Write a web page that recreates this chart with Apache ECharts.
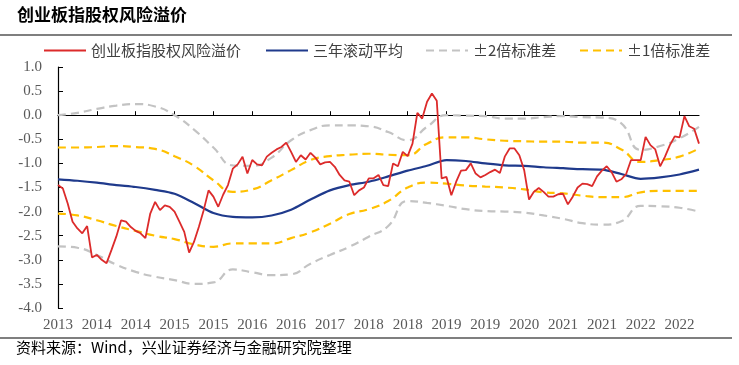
<!DOCTYPE html>
<html>
<head>
<meta charset="utf-8">
<script src="https://cdn.jsdelivr.net/npm/echarts@6/dist/echarts.min.js"></script>
<style>html,body{margin:0;padding:0;background:#fff;}#c{width:739px;height:365px;}</style>
</head>
<body>
<div id="c"></div>
<script>
// tick labels of the category axis (one per 8 points)
var xLabels = ['2013','2014','2014','2015','2015','2016','2016','2017','2018','2018','2019','2019','2020','2021','2021','2022','2022'];
var pointsPerLabel = 8;
var nPoints = 133;

// 创业板指股权风险溢价 (one value per category point)
var premium = [
 -1.45,-1.52,-1.83,-2.21,-2.35,-2.45,-2.3,-2.95,-2.9,-3.0,
 -3.07,-2.8,-2.52,-2.18,-2.21,-2.32,-2.4,-2.45,-2.55,-2.04,
 -1.8,-1.97,-1.87,-1.9,-2.0,-2.21,-2.42,-2.85,-2.63,-2.32,
 -1.97,-1.56,-1.69,-1.9,-1.65,-1.45,-1.11,-1.02,-0.86,-1.21,
 -0.93,-1.02,-1.04,-0.86,-0.78,-0.71,-0.66,-0.57,-0.76,-0.97,
 -0.83,-0.92,-0.78,-0.88,-1.02,-0.98,-0.97,-1.07,-1.24,-1.35,
 -1.38,-1.66,-1.56,-1.5,-1.31,-1.31,-1.24,-1.45,-1.47,-1.0,
 -1.06,-0.76,-0.85,-0.59,0.05,-0.07,0.28,0.45,0.3,-1.31,
 -1.28,-1.66,-1.38,-1.15,-1.14,-1.0,-1.21,-1.29,-1.24,-1.18,
 -1.13,-1.2,-0.86,-0.69,-0.69,-0.83,-1.14,-1.75,-1.59,-1.51,
 -1.59,-1.69,-1.69,-1.64,-1.63,-1.85,-1.69,-1.5,-1.42,-1.43,
 -1.47,-1.27,-1.15,-1.06,-1.18,-1.38,-1.33,-1.22,-0.93,-0.93,
 -0.93,-0.45,-0.62,-0.71,-1.06,-0.86,-0.62,-0.44,-0.46,-0.02,
 -0.23,-0.28,-0.59
];

// smoother series are read at every 4th category point
var bandIdx = [0,4,8,12,16,20,24,28,32,36,40,44,48,52,56,60,64,68,72,76,80,84,88,92,96,100,104,108,112,116,120,124,128,132];
var rolling3y = [-1.33,-1.36,-1.4,-1.45,-1.49,-1.55,-1.63,-1.82,-2.03,
 -2.11,-2.12,-2.08,-1.96,-1.75,-1.56,-1.45,-1.38,
 -1.27,-1.15,-1.05,-0.93,-0.95,-1.0,-1.04,-1.05,
 -1.08,-1.1,-1.12,-1.13,-1.22,-1.32,-1.29,-1.23,-1.13];
var upper2 = [0.0,0.05,0.13,0.2,0.23,0.18,0.0,-0.3,-0.67,
 -1.04,-1.05,-0.88,-0.52,-0.31,-0.21,-0.21,-0.23,
 -0.35,-0.52,-0.24,0.0,-0.01,-0.02,-0.07,-0.07,
 -0.04,-0.02,-0.04,-0.05,-0.17,-0.72,-0.64,-0.48,-0.24];
var upper1 = [-0.67,-0.67,-0.66,-0.64,-0.66,-0.7,-0.85,-1.05,-1.35,
 -1.59,-1.54,-1.35,-1.14,-0.93,-0.85,-0.82,-0.8,
 -0.82,-0.83,-0.59,-0.46,-0.46,-0.5,-0.53,-0.54,
 -0.55,-0.55,-0.57,-0.57,-0.71,-0.97,-0.93,-0.86,-0.69];
var lower1 = [-2.04,-2.08,-2.18,-2.3,-2.4,-2.5,-2.57,-2.68,-2.73,
 -2.66,-2.66,-2.66,-2.55,-2.43,-2.25,-2.05,-1.95,
 -1.78,-1.5,-1.4,-1.42,-1.46,-1.48,-1.5,-1.54,
 -1.6,-1.62,-1.67,-1.7,-1.7,-1.6,-1.57,-1.57,-1.57];
var lower2 = [-2.72,-2.75,-2.9,-3.1,-3.25,-3.35,-3.42,-3.5,-3.47,
 -3.2,-3.26,-3.32,-3.3,-3.08,-2.9,-2.73,-2.52,
 -2.3,-1.78,-1.82,-1.88,-1.95,-1.99,-2.0,-2.02,
 -2.08,-2.15,-2.24,-2.27,-2.2,-1.88,-1.89,-1.92,-2.0];

var names = ['创业板指股权风险溢价','三年滚动平均','±2倍标准差','±1倍标准差'];

var categories = [];
for (var i = 0; i < nPoints; i++) categories.push(xLabels[Math.floor(i / pointsPerLabel)]);
function pairs(vals){ return bandIdx.map(function(k, j){ return [k, vals[j]]; }); }

var RED = '#dc2b2b', BLUE = '#1f3a8c', GRAY = '#c3c3c3', YEL = '#ffc000';
var cjk = '"Noto Sans CJK SC", sans-serif';
var serif = '"Liberation Serif", "DejaVu Serif", serif';

var chart = echarts.init(document.getElementById('c'), null, {renderer: 'canvas'});
function lg(name, left){
  return {show: true, data: [name], left: left, top: 38, itemWidth: 42, itemHeight: 14, itemGap: 0,
    itemStyle: {color: 'rgba(0,0,0,0)', borderColor: 'rgba(0,0,0,0)', borderWidth: 0, opacity: 0},
    textStyle: {fontFamily: cjk, fontSize: 15, color: '#404040', padding: [0,0,0,0]}};
}
chart.setOption({
  animation: false,
  backgroundColor: '#fff',
  legend: [lg(names[0], 38), lg(names[1], 260), lg(names[2], 420), lg(names[3], 574)],
  grid: {left: 58, right: 40, top: 67, bottom: 57, containLabel: false, outerBoundsMode: 'none'},
  xAxis: [{
    type: 'category', data: categories, boundaryGap: false, position: 'bottom',
    axisLine: {show: false, onZero: false},
    axisTick: {show: false},
    axisLabel: {interval: pointsPerLabel - 1, margin: 10, fontFamily: serif, fontSize: 15, color: '#595959'},
    splitLine: {show: false}
  }, {
    type: 'category', data: categories, boundaryGap: false, position: 'bottom',
    axisLine: {show: true, onZero: true, lineStyle: {color: '#000', width: 1.2}},
    axisTick: {show: true, inside: true, length: 4, interval: pointsPerLabel - 1, lineStyle: {color: '#000'}},
    axisLabel: {show: false},
    splitLine: {show: false}
  }],
  yAxis: {
    type: 'value', min: -4, max: 1, interval: 0.5,
    axisLine: {show: true, lineStyle: {color: '#000', width: 1.2}},
    axisTick: {show: true, inside: true, length: 5, lineStyle: {color: '#000'}},
    axisLabel: {margin: 16, fontFamily: serif, fontSize: 15, color: '#595959',
      formatter: function(v){ return v.toFixed(1); }},
    splitLine: {show: false}
  },
  series: [
    {name: names[2], type: 'line', data: pairs(upper2), smooth: 0.5, symbol: 'none', z: 2,
     lineStyle: {color: GRAY, width: 2.2, type: [8,5]}, itemStyle: {color: GRAY}},
    {name: names[2], type: 'line', data: pairs(lower2), smooth: 0.5, symbol: 'none', z: 2,
     lineStyle: {color: GRAY, width: 2.2, type: [8,5]}, itemStyle: {color: GRAY}},
    {name: names[3], type: 'line', data: pairs(upper1), smooth: 0.5, symbol: 'none', z: 2,
     lineStyle: {color: YEL, width: 2.2, type: [8,5]}, itemStyle: {color: YEL}},
    {name: names[3], type: 'line', data: pairs(lower1), smooth: 0.5, symbol: 'none', z: 2,
     lineStyle: {color: YEL, width: 2.2, type: [8,5]}, itemStyle: {color: YEL}},
    {name: names[1], type: 'line', data: pairs(rolling3y), smooth: 0.3, symbol: 'none', z: 3,
     lineStyle: {color: BLUE, width: 2.2}, itemStyle: {color: BLUE}},
    {name: names[0], type: 'line', data: premium, symbol: 'none', z: 4,
     lineStyle: {color: RED, width: 1.8}, itemStyle: {color: RED}}
  ],
  graphic: [
    {type: 'text', left: 17, top: 6, style: {text: '创业板指股权风险溢价', fontFamily: cjk, fontSize: 17, fontWeight: 'bold', fill: '#000'}},
    {type: 'line', shape: {x1: 0, y1: 35, x2: 732, y2: 35}, style: {stroke: '#000', lineWidth: 1.2}},
    {type: 'line', shape: {x1: 0, y1: 338, x2: 732, y2: 338}, style: {stroke: '#000', lineWidth: 1.2}},
    {type: 'text', left: 16, top: 340, style: {text: '资料来源：Wind，兴业证券经济与金融研究院整理', fontFamily: cjk, fontSize: 15, fill: '#000'}}
  ]
});
</script>
</body>
</html>
